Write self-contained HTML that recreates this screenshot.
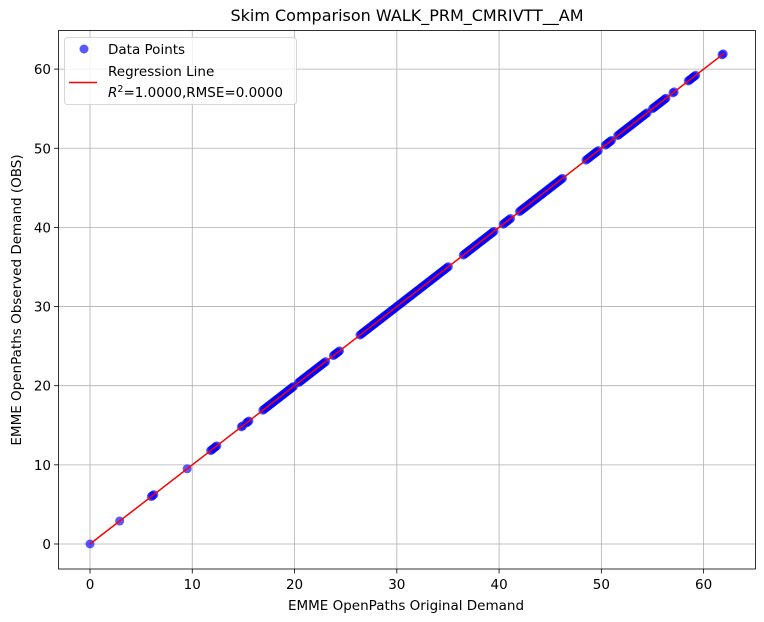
<!DOCTYPE html>
<html><head><meta charset="utf-8"><style>
html,body{margin:0;padding:0;background:#fff}
svg{display:block;font-family:"DejaVu Sans","Liberation Sans",sans-serif}
</style></head><body>
<svg id="s" width="764" height="622" viewBox="0 0 764 622" xmlns="http://www.w3.org/2000/svg">
<rect width="764" height="622" fill="#fff"/>
<g stroke="#b0b0b0" stroke-width="0.8" id="grid"></g>
<g id="pts" fill="#0000ff" fill-opacity="0.65"></g>
<line x1="90" y1="544" x2="724.1" y2="53.3" stroke="#ff0000" stroke-width="1.5"/>
<rect x="58.5" y="30.5" width="697" height="538.5" fill="none" stroke="#000" stroke-width="0.8"/>
<g id="ticks" stroke="#000" stroke-width="0.8"></g>
<g id="lbl" font-size="13.5" fill="#000"></g>
<text x="407" y="21" font-size="16" text-anchor="middle">Skim Comparison WALK_PRM_CMRIVTT__AM</text>
<text x="406" y="610" font-size="13.5" text-anchor="middle">EMME OpenPaths Original Demand</text>
<text transform="translate(21,300) rotate(-90)" font-size="13.5" text-anchor="middle">EMME OpenPaths Observed Demand (OBS)</text>
<rect x="64.5" y="37.5" width="232" height="67" rx="3" fill="#fff" fill-opacity="0.8" stroke="#ccc" stroke-width="0.8"/>
<circle cx="84" cy="49" r="4.5" fill="#0000ff" fill-opacity="0.65"/>
<text x="108" y="54" font-size="13.5">Data Points</text>
<line x1="69" y1="82.5" x2="97" y2="82.5" stroke="#ff0000" stroke-width="1.5"/>
<text x="108" y="76" font-size="13.5">Regression Line</text>
<text x="108" y="97" font-size="13.5"><tspan font-style="italic">R</tspan><tspan font-size="9.5" dy="-5">2</tspan><tspan dy="5">=1.0000,RMSE=0.0000</tspan></text>
</svg>
<script>
var NS="http://www.w3.org/2000/svg";
function X(v){return 90+v*10.227;}
function Y(v){return 544-v*7.915;}
function el(p,t,a){var e=document.createElementNS(NS,t);for(var k in a)e.setAttribute(k,a[k]);document.getElementById(p).appendChild(e);return e;}
for(var i=0;i<=60;i+=10){
 var x=X(i),y=Y(i);
 el("grid","line",{x1:x,y1:30.5,x2:x,y2:569});
 el("grid","line",{x1:58.5,y1:y,x2:755.5,y2:y});
 el("ticks","line",{x1:x,y1:569,x2:x,y2:573.5});
 el("ticks","line",{x1:58.5,y1:y,x2:54,y2:y});
 var t=el("lbl","text",{x:x,y:589,"text-anchor":"middle"});t.textContent=i;
 var u=el("lbl","text",{x:51,y:y+5,"text-anchor":"end"});u.textContent=i;
}
var segs=[[0,0],[2.9,2.9],[6,6.3],[9.5,9.5],[11.8,12.4],[14.8,15],[15.3,15.6],[16.9,20],[20.4,23.1],[23.8,24.5],[26.4,35.1],[36.5,39.6],[40.4,41.2],[42,46.2],[48.5,49.8],[50.4,51],[51.6,54.5],[55,56.4],[57,57.2],[58.5,59.3],[61.8,62]];
segs.forEach(function(s){for(var v=s[0];v<=s[1]+1e-9;v+=0.12){el("pts","circle",{cx:X(v),cy:Y(v),r:4.5});}});
</script>
</body></html>
